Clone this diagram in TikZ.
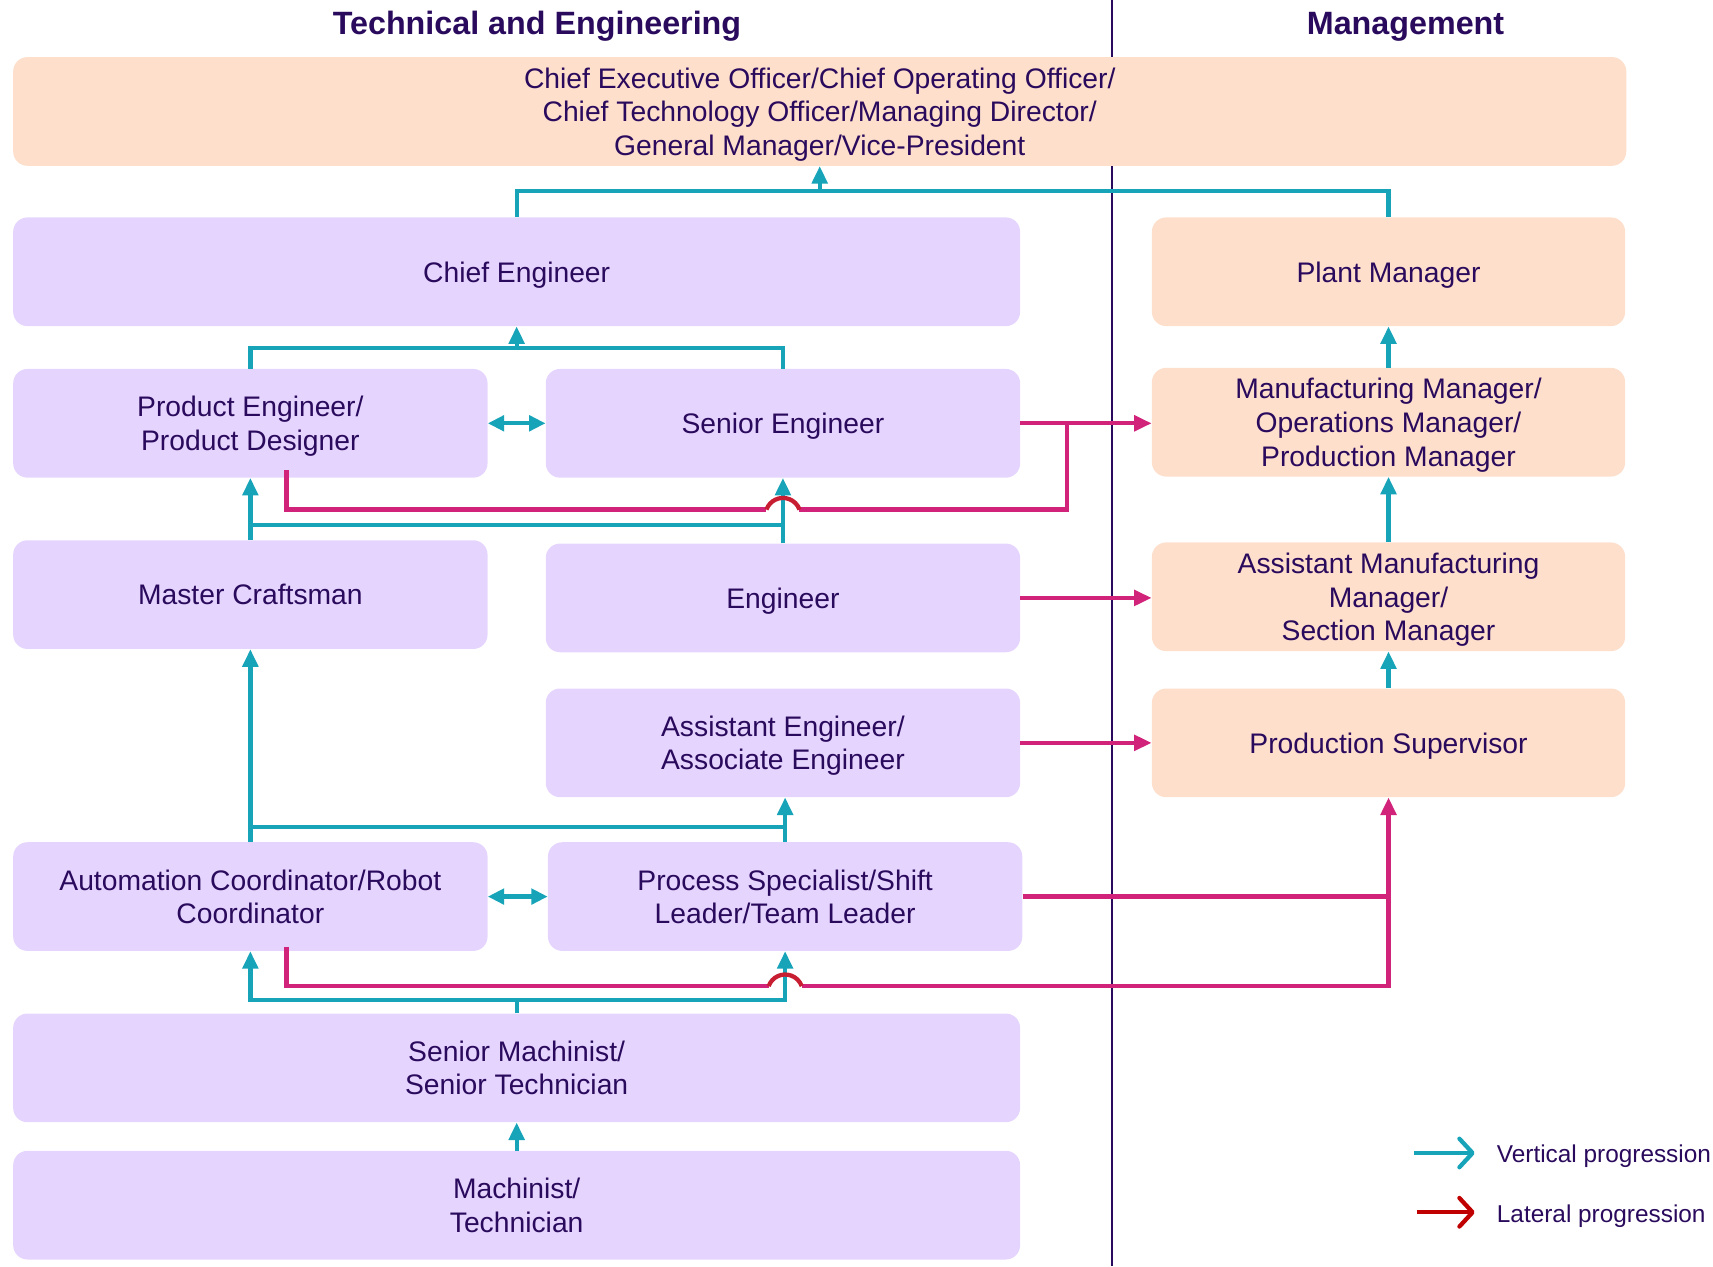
\documentclass[tikz,border=0pt]{standalone}
\usepackage{fontspec}
\setmainfont{Liberation Sans}
\usetikzlibrary{arrows.meta,calc}
\definecolor{txt}{RGB}{42,10,92}
\definecolor{lav}{RGB}{229,213,254}
\definecolor{peach}{RGB}{253,223,204}
\definecolor{tealc}{RGB}{23,163,184}
\definecolor{mag}{RGB}{210,35,123}
\definecolor{hopred}{RGB}{200,30,50}
\definecolor{legred}{RGB}{192,0,0}
\begin{document}
\begin{tikzpicture}[x=1pt,y=1pt,
 box/.style={rounded corners=13pt, inner sep=0pt, align=center, text=txt, text depth=0pt, font=\fontsize{25.75}{30.6}\selectfont},
 tbox/.style={box, fill=lav},
 mbox/.style={box, fill=peach},
 tl/.style={draw=tealc, line width=3.9pt},
 ta/.style={tl, -{Triangle[length=16pt,width=14pt]}},
 tda/.style={tl, {Triangle[length=15pt,width=14pt]}-{Triangle[length=15pt,width=14pt]}},
 ml/.style={draw=mag, line width=3.9pt},
 ma/.style={ml, -{Triangle[length=16pt,width=14pt]}},
 hop/.style={draw=hopred, line width=3.9pt},
 head/.style={font=\bfseries\fontsize{29.4}{34}\selectfont, text=txt, inner sep=0pt},
 leg/.style={font=\fontsize{22.2}{26}\selectfont, text=txt, anchor=base west, inner sep=0pt},
 legarrow/.style={line width=3.9pt, -{Straight Barb[length=12pt,width=26pt,round]}},
]
\useasboundingbox (0,0) rectangle (1560,-1153);

% divider
\coordinate (d1) at (1013,0);
\coordinate (d2) at (1013,-1153);
\draw[line width=2pt, draw=txt] (d1) -- (d2);

% headings
\node[head] (hte) at (489,-24) {Technical and Engineering};
\node[head] (hm) at (1280,-24) {Management};

% boxes
\node[mbox, minimum width=1469pt, minimum height=99pt] (ceo) at (746.5,-101.5)
  {Chief Executive Officer/Chief Operating Officer/\\Chief Technology Officer/Managing Director/\\General Manager/Vice-President};
\node[tbox, minimum width=917pt, minimum height=99pt] (chief) at (470.5,-247.5) {Chief Engineer};
\node[mbox, minimum width=431pt, minimum height=99pt] (plant) at (1264.5,-247.5) {Plant Manager};
\node[tbox, minimum width=432pt, minimum height=99pt] (prod) at (228,-385.5) {Product Engineer/\\Product Designer};
\node[tbox, minimum width=432pt, minimum height=99pt] (senior) at (713,-385.5) {Senior Engineer};
\node[mbox, minimum width=431pt, minimum height=99pt] (manuf) at (1264.5,-384.5) {Manufacturing Manager/\\Operations Manager/\\Production Manager};
\node[tbox, minimum width=432pt, minimum height=99pt] (master) at (228,-541.5) {Master Craftsman};
\node[tbox, minimum width=432pt, minimum height=99pt] (eng) at (713,-544.5) {Engineer};
\node[mbox, minimum width=431pt, minimum height=99pt] (asstmanuf) at (1264.5,-543.5) {Assistant Manufacturing\\Manager/\\Section Manager};
\node[tbox, minimum width=432pt, minimum height=99pt] (asst) at (713,-676.5) {Assistant Engineer/\\Associate Engineer};
\node[mbox, minimum width=431pt, minimum height=99pt] (prodsup) at (1264.5,-676.5) {Production Supervisor};
\node[tbox, minimum width=432pt, minimum height=99pt] (auto) at (228,-816.5) {Automation Coordinator/Robot\\Coordinator};
\node[tbox, minimum width=432pt, minimum height=99pt] (proc) at (715,-816.5) {Process Specialist/Shift\\Leader/Team Leader};
\node[tbox, minimum width=917pt, minimum height=99pt] (srmach) at (470.5,-972.5) {Senior Machinist/\\Senior Technician};
\node[tbox, minimum width=917pt, minimum height=99pt] (mach) at (470.5,-1097.5) {Machinist/\\Technician};

% teal (vertical progression)
\coordinate (j1) at (746.5,-174);
\draw[tl] (chief.north) |- (j1) -| (plant.north);
\draw[ta] (j1) -- (ceo.south);
\coordinate (j2) at (470.5,-317);
\draw[tl] (prod.north) |- (j2) -| (senior.north);
\draw[ta] (j2) -- (chief.south);
\draw[tda] (prod.east) -- (senior.west);
\draw[ta] (master.north) -- (prod.south);
\draw[ta] (eng.north) -- (senior.south);
\coordinate (h1) at (0,-478);
\draw[tl] (master.north |- h1) -- (eng.north |- h1);
\draw[ta] (auto.north) -- (master.south);
\draw[ta] (proc.north) -- (proc.north |- asst.south);
\coordinate (h2) at (0,-753);
\draw[tl] (auto.north |- h2) -- (proc.north |- h2);
\draw[tda] (auto.east) -- (proc.west);
\draw[tl] (srmach.north) -- ++(0,12) coordinate (j5);
\draw[ta] (j5) -| (auto.south);
\draw[ta] (j5) -| (proc.south);
\draw[ta] (mach.north) -- (srmach.south);
\draw[ta] (manuf.north) -- (plant.south);
\draw[ta] (asstmanuf.north) -- (manuf.south);
\draw[ta] (prodsup.north) -- (asstmanuf.south);

% magenta (lateral progression)
\draw[ma] (senior.east) -- (senior.east -| manuf.west);
\draw[ma] (eng.east) -- (eng.east -| asstmanuf.west);
\draw[ma] (asst.east) -- (asst.east -| prodsup.west);
\coordinate (pm1) at (261,-428);
\coordinate (hl1) at (698,-464);
\coordinate (hr1) at (728,-464);
\coordinate (pm2) at (972,-385.5);
\draw[ml] (pm1) |- (hl1);
\draw[ml] (hr1) -| (pm2);
\draw[hop] (hl1) arc[start angle=160,end angle=20,radius=16];
\coordinate (am1) at (261,-862);
\coordinate (hl2) at (700,-898);
\coordinate (hr2) at (730,-898);
\draw[ml] (am1) |- (hl2);
\draw[ma] (hr2) -| (prodsup.south);
\draw[hop] (hl2) arc[start angle=160,end angle=20,radius=16];
\draw[ml] (proc.east) -- (proc.east -| prodsup.south);

% legend
\coordinate (lv1) at (1288,-1050);
\coordinate (lv2) at (1343,-1050);
\draw[legarrow, draw=tealc] (lv1) -- (lv2);
\node[leg] (lvt) at (1363,-1059) {Vertical progression};
\coordinate (ll1) at (1290,-1104);
\coordinate (ll2) at (1343,-1104);
\draw[legarrow, draw=legred] (ll1) -- (ll2);
\node[leg] (llt) at (1363,-1113) {Lateral progression};
\end{tikzpicture}
\end{document}
